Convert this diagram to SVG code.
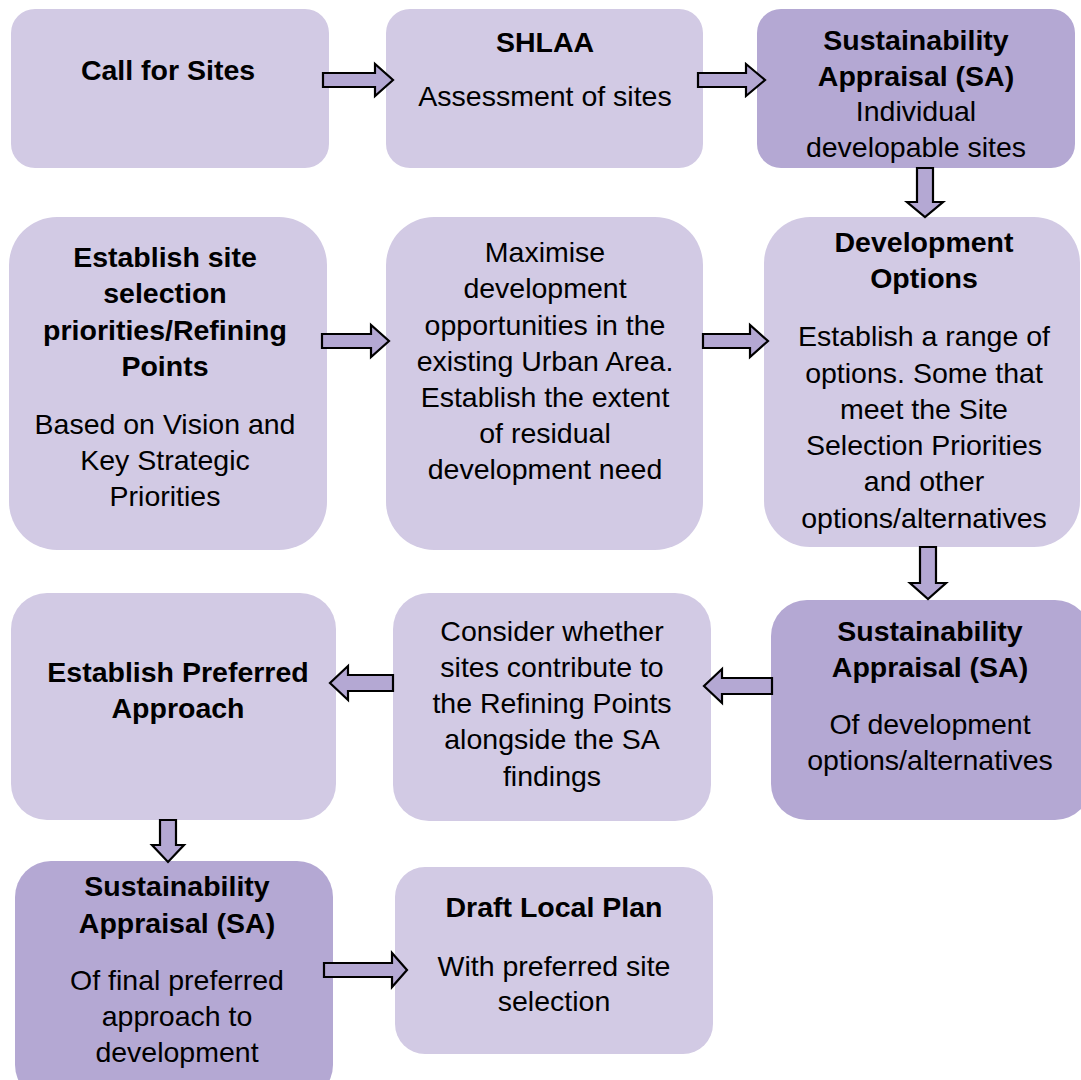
<svg xmlns="http://www.w3.org/2000/svg" width="1081" height="1080" viewBox="0 0 1081 1080">
<defs>
<style>
.light{fill:#d2cae4}
.dark{fill:#b4a8d3}
.arrow{fill:#b4a8d3;stroke:#000;stroke-width:2.2;stroke-linejoin:miter}
text{font-family:"Liberation Sans",Arial,sans-serif;font-size:28.5px;fill:#000;text-anchor:middle}
.b{font-weight:bold}
</style>
<clipPath id="clipSA1"><rect x="757" y="9" width="318" height="159" rx="24"/></clipPath>
</defs>
<rect width="1081" height="1080" fill="#fff"/>

<g id="call-for-sites">
<rect class="light" x="11" y="9" width="318" height="159" rx="24"/>
<text class="b" x="168" y="80">Call for Sites</text>
</g>

<g id="shlaa">
<rect class="light" x="386" y="9" width="317" height="159" rx="24"/>
<text class="b" x="545" y="52">SHLAA</text>
<text x="545" y="106">Assessment of sites</text>
</g>

<g id="sa-individual">
<rect class="dark" x="757" y="9" width="318" height="159" rx="24"/>
<g clip-path="url(#clipSA1)">
<text class="b" x="916" y="50">Sustainability</text>
<text class="b" x="916" y="86">Appraisal (SA)</text>
<text x="916" y="121">Individual</text>
<text x="916" y="157">developable sites</text>
</g>
</g>

<g id="establish-priorities">
<rect class="light" x="9" y="217" width="318" height="333" rx="48"/>
<text class="b" x="165" y="267">Establish site</text>
<text class="b" x="165" y="303">selection</text>
<text class="b" x="165" y="340">priorities/Refining</text>
<text class="b" x="165" y="376">Points</text>
<text x="165" y="434">Based on Vision and</text>
<text x="165" y="470">Key Strategic</text>
<text x="165" y="506">Priorities</text>
</g>

<g id="maximise">
<rect class="light" x="386" y="217" width="317" height="333" rx="48"/>
<text x="545" y="262">Maximise</text>
<text x="545" y="298">development</text>
<text x="545" y="335">opportunities in the</text>
<text x="545" y="371">existing Urban Area.</text>
<text x="545" y="407">Establish the extent</text>
<text x="545" y="443">of residual</text>
<text x="545" y="479">development need</text>
</g>

<g id="development-options">
<rect class="light" x="764" y="217" width="316" height="330" rx="46"/>
<text class="b" x="924" y="252">Development</text>
<text class="b" x="924" y="288">Options</text>
<text x="924" y="346">Establish a range of</text>
<text x="924" y="383">options. Some that</text>
<text x="924" y="419">meet the Site</text>
<text x="924" y="455">Selection Priorities</text>
<text x="924" y="491">and other</text>
<text x="924" y="528">options/alternatives</text>
</g>

<g id="establish-preferred">
<rect class="light" x="11" y="593" width="325" height="227" rx="36"/>
<text class="b" x="178" y="682">Establish Preferred</text>
<text class="b" x="178" y="718">Approach</text>
</g>

<g id="consider">
<rect class="light" x="393" y="593" width="318" height="228" rx="36"/>
<text x="552" y="641">Consider whether</text>
<text x="552" y="677">sites contribute to</text>
<text x="552" y="713">the Refining Points</text>
<text x="552" y="749">alongside the SA</text>
<text x="552" y="786">findings</text>
</g>

<g id="sa-options">
<rect class="dark" x="771" y="600" width="320" height="220" rx="36"/>
<text class="b" x="930" y="641">Sustainability</text>
<text class="b" x="930" y="677">Appraisal (SA)</text>
<text x="930" y="734">Of development</text>
<text x="930" y="770">options/alternatives</text>
</g>

<g id="sa-final">
<rect class="dark" x="15" y="861" width="318" height="240" rx="36"/>
<text class="b" x="177" y="896">Sustainability</text>
<text class="b" x="177" y="933">Appraisal (SA)</text>
<text x="177" y="990">Of final preferred</text>
<text x="177" y="1026">approach to</text>
<text x="177" y="1062">development</text>
</g>

<g id="draft-local-plan">
<rect class="light" x="395" y="867" width="318" height="187" rx="30"/>
<text class="b" x="554" y="917">Draft Local Plan</text>
<text x="554" y="976">With preferred site</text>
<text x="554" y="1011">selection</text>
</g>

<g id="connectors">
<polygon class="arrow" points="323,73 375,73 375,64 393,80 375,96 375,87 323,87"/>
<polygon class="arrow" points="698,73 746,73 746,64 765,80 746,96 746,87 698,87"/>
<polygon class="arrow" points="917,168 933,168 933,202 943,202 925,217 907,202 917,202"/>
<polygon class="arrow" points="322,334 371,334 371,325 389,341 371,357 371,348 322,348"/>
<polygon class="arrow" points="703,334 750,334 750,325 768,341 750,357 750,348 703,348"/>
<polygon class="arrow" points="920,547 936,547 936,583 946,583 928,599 910,583 920,583"/>
<polygon class="arrow" points="772,678 722,678 722,669 704,686 722,703 722,694 772,694"/>
<polygon class="arrow" points="393,675 348,675 348,666 330,683 348,700 348,691 393,691"/>
<polygon class="arrow" points="160,820 176,820 176,845 184,845 168,862 152,845 160,845"/>
<polygon class="arrow" points="324,963 392,963 392,953 407,970 392,987 392,977 324,977"/>
</g>
</svg>
